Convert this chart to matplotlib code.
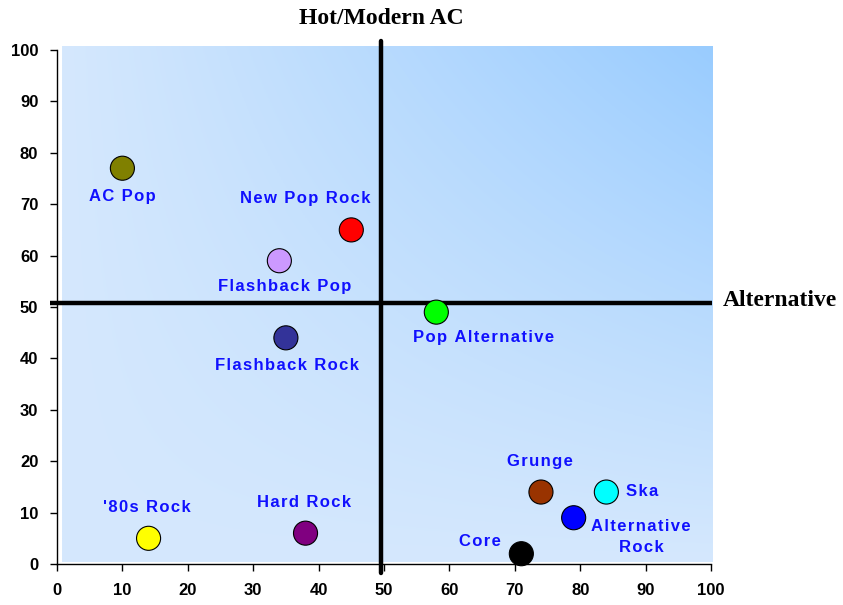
import numpy as np
import matplotlib
matplotlib.use("Agg")
import matplotlib.pyplot as plt

# Data
formats = ["AC Pop", "New Pop Rock", "Flashback Pop", "Flashback Rock", "Pop Alternative",
           "Grunge", "Ska", "Alternative\nRock", "Core", "'80s Rock", "Hard Rock"]
x_vals = [10, 45, 34, 35, 58, 74, 84, 79, 71, 14, 38]
y_vals = [77, 65, 59, 44, 49, 14, 14, 9, 2, 5, 6]
colors = ["#808000", "#ff0000", "#cc99ff", "#333399", "#00ff00",
          "#993300", "#00ffff", "#0000ff", "#000000", "#ffff00", "#800080"]
label_x = [10, 38, 34.8, 35.2, 65.3, 73.9, 87, 89.3, 64.7, 13.8, 37.8]
label_y = [71.5, 71.2, 53.9, 38.7, 44, 20, 14.2, 5.3, 4.3, 10.9, 12]
label_ha = ["center"] * 6 + ["left"] + ["center"] * 4
ticks = list(range(0, 101, 10))
x_title = "Alternative"
y_title = "Hot/Modern AC"
divider = 50.8
divider_x = 49.5


def spaced(s):
    return "\n".join("\u200a".join(line) for line in s.split("\n"))


fig = plt.figure(figsize=(8.43, 6.05), dpi=100)
ax = fig.add_axes([57/843, 1 - 564/605, 654/843, 514/605])
ax.set_xlim(0, 100)
ax.set_ylim(0, 100)

# gradient background
n = 300
gx = np.linspace(0, 1, n)
gy = np.linspace(0, 1, n)
GX, GY = np.meshgrid(gx, gy)
t = GX * GY
c0 = np.array([213, 232, 253]) / 255
c1 = np.array([153, 204, 255]) / 255
img = c0[None, None, :] * (1 - t[..., None]) + c1[None, None, :] * t[..., None]
ax.imshow(img, origin="lower", extent=(0.7, 100.2, 0.4, 100.6), aspect="auto", zorder=0, clip_on=False)

# divider lines
ax.plot([-1, 100.1], [divider, divider], color="black", lw=3.2, clip_on=False, zorder=2,
        solid_capstyle="butt")
ax.plot([divider_x, divider_x], [-1.8, 101.8], color="black", lw=3.2, clip_on=False, zorder=2,
        solid_capstyle="round")

ax.scatter(x_vals, y_vals, s=300, c=colors, edgecolors="black", linewidths=0.8, zorder=3, clip_on=False)

for name, lx, ly, ha in zip(formats, label_x, label_y, label_ha):
    ax.text(lx, ly, spaced(name), color="#1010ff", fontsize=12, fontweight="bold",
            family=["Liberation Sans", "DejaVu Sans"], ha=ha, va="center",
            linespacing=1.5, zorder=4)

ax.set_xticks(ticks)
ax.set_yticks(ticks)
ax.tick_params(direction="out", length=5, width=1, labelsize=12)
ax.tick_params(axis="x", pad=9)
ax.tick_params(axis="y", pad=8.5)
for lab in ax.get_xticklabels() + ax.get_yticklabels():
    lab.set_fontweight("bold")
    lab.set_family("Liberation Sans")
for s in ["top", "right"]:
    ax.spines[s].set_visible(False)
for s in ["left", "bottom"]:
    ax.spines[s].set_linewidth(1)

fig.text(381/843, 1 - 18/605, y_title, fontsize=17, fontweight="bold", family="Liberation Serif",
         ha="center", va="center")
fig.text(723/843, 1 - 300/605, x_title, fontsize=17, fontweight="bold", family="Liberation Serif",
         ha="left", va="center")

fig.savefig("out.png", dpi=100)
